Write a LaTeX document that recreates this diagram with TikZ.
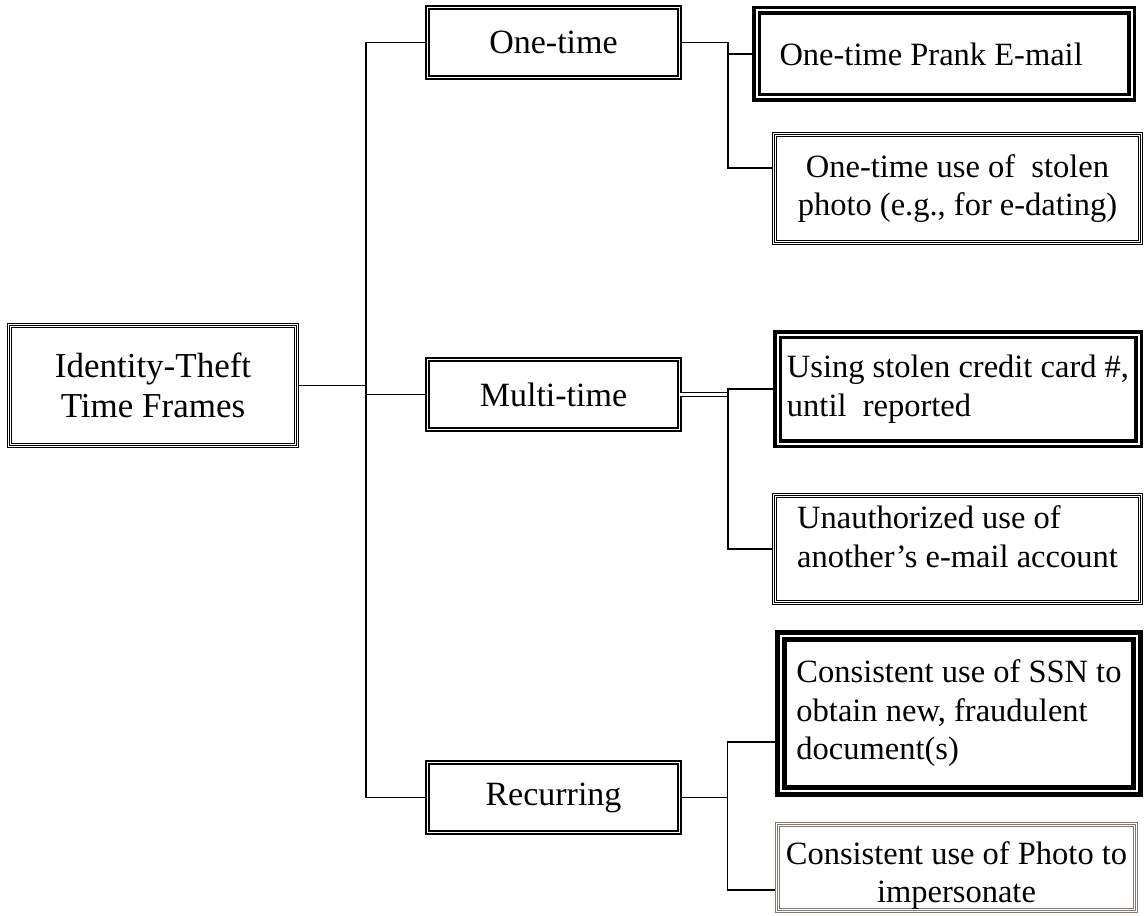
\documentclass[tikz,border=0pt]{standalone}
\usepackage{fontspec}
\setmainfont{Liberation Serif}
\definecolor{framegray}{RGB}{135,120,110}

\tikzset{
  link/.style={line width=1.3pt},
  lvlbox/.style={draw, double, line width=1.6pt, double distance=1.5pt, inner sep=0pt,
    minimum width=252pt, minimum height=70pt, font=\fontsize{34}{40}\selectfont},
  heavybox/.style={draw, double, line width=3.5pt, double distance=2pt, inner sep=0pt,
    font=\fontsize{32.5}{38.5}\selectfont},
  tribox/.style={draw=#1, line width=5pt, inner sep=0pt,
    postaction={draw, white, line width=3.4pt},
    postaction={draw=#1, line width=0.8pt},
    font=\fontsize{32.5}{38.5}\selectfont},
  tribox/.default=black
}

\begin{document}
\begin{tikzpicture}[x=1pt,y=-1pt]
\useasboundingbox (0,0) rectangle (1145,915);

% left and middle
\node [tribox, minimum width=287pt, minimum height=120pt, align=center,
  font=\fontsize{35}{40}\selectfont] (root) at (153,385.5) {Identity-Theft\\Time Frames};
\node [lvlbox] (one) at (553.5,42.5) {One-time};
\node [lvlbox] (multi) at (553.5,394.5) {Multi-time};
\node [lvlbox] (recur) at (553.5,797.5) {Recurring};

% right column
\node [heavybox, minimum width=375pt, minimum height=87pt, text width=329pt, inner xsep=23pt,
  align=flush left] (prank) at (944,54) {One-time Prank E-mail};
\node [tribox, minimum width=366pt, minimum height=108pt, align=center] (photo1) at (957.5,188.5)
  {One-time use of \ stolen\\photo (e.g., for e-dating)};
\node [heavybox, minimum width=361pt, minimum height=109pt, align=left] (credit) at (958,389)
  {Using stolen credit card \#,\\until \ reported};
\node [tribox, minimum width=366pt, minimum height=107pt, align=left] (unauth) at (957.5,549)
  {Unauthorized use of\\another’s e-mail account\\[-14pt]};
\node [heavybox, line width=4.5pt, double distance=2.5pt, minimum width=356pt, minimum height=155pt,
  align=left] (ssn) at (959,713.5)
  {Consistent use of SSN to\\obtain new, fraudulent\\document(s)};
\node [tribox=framegray, minimum width=358pt, minimum height=86pt, align=center] (photo2) at (956.5,867.5)
  {\mbox{}\\Consistent use of Photo to\\impersonate};

\coordinate (spine) at (366,385.5);
\coordinate (fork1) at (728,42.5);
\coordinate (fork2) at (728,389);
\coordinate (fork3) at (727.5,797.5);
\coordinate (photo1in) at (772,168);
\coordinate (ssnin) at (775,742);
\coordinate (photo2in) at (775,890);

% trunk
\draw [link] (root.east) -- (spine);
\draw [link] (one.west) -| (spine) |- (recur.west);
\draw [link] (spine |- multi.west) -- (multi.west);

% branches
\draw [link] (one.east) -- (fork1) |- (photo1in);
\draw [link] (fork1 |- prank.west) -- (prank.west);
\draw [link, double, line width=1pt, double distance=3pt] (multi.east) -- (fork2 |- multi.east);
\draw [link] (credit.west) -- (fork2) |- (unauth.west);
\draw [link] (recur.east) -- (fork3);
\draw [link] (ssnin) -| (fork3) |- (photo2in);

\end{tikzpicture}
\end{document}
